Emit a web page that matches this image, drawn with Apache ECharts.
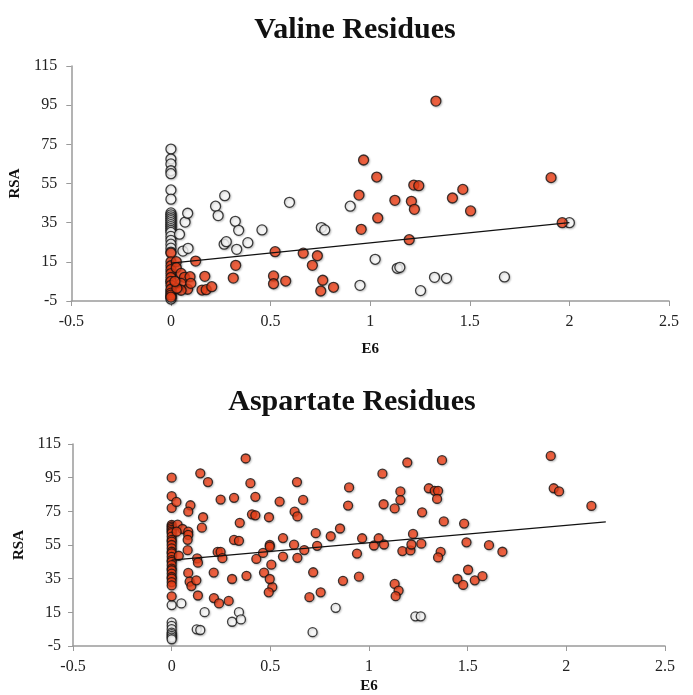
<!DOCTYPE html>
<html>
<head>
<meta charset="utf-8">
<script src="https://cdn.jsdelivr.net/npm/echarts@6/dist/echarts.min.js"></script>
<style>
  html, body { margin: 0; padding: 0; background: #fff; }
  #main { width: 693px; height: 695px; }
</style>
</head>
<body>
<div id="main"></div>
<script>
// axis ticks
const xTicks = [-0.5, 0, 0.5, 1, 1.5, 2, 2.5];
const yTicks = [-5, 15, 35, 55, 75, 95, 115];

// Valine - white (hollow) points
const valHollowX = [0, 0, 0, 0, 0, 0, 0, 0, 0, 0, 0, 0, 0, 0, 0, 0, 0, 0, 0, 0, 0, 0, 0, 0, 0, 0, 0,
  0.043, 0.071, 0.084, 0.06, 0.086, 0.224, 0.237, 0.27, 0.267, 0.278, 0.323, 0.34, 0.33, 0.386, 0.457,
  0.595, 0.755, 0.772, 0.9, 1.025, 1.136, 1.149, 0.949, 1.253, 1.323, 1.383, 1.674, 2.0];
const valHollowY = [72.6, 67.5, 65, 61.5, 60, 51.7, 47, 40, 39, 38, 37, 36, 35, 34, 33, 32, 31, 30, 28, 26, 24, 22, 20, 5, 0, -3, -4,
  29.1, 35.3, 39.8, 20.5, 21.9, 43.4, 38.6, 48.8, 24, 25.3, 35.7, 31.1, 21.4, 24.8, 31.3,
  45.4, 32.5, 31.3, 43.4, 16.3, 11.7, 12.2, 3, 0.3, 7.1, 6.6, 7.3, 35];

// Valine - orange points
const valOrangeX = [0, 0, 0, 0, 0, 0, 0, 0, 0, 0, 0, 0,
  0.027, 0.027, 0.051, 0.068, 0.096, 0.051, 0.084, 0.051, 0.03, 0.02, 0.1,
  0.124, 0.17, 0.313, 0.325, 0.156, 0.177, 0.205,
  0.523, 0.664, 0.735, 0.71, 0.515, 0.515, 0.576, 0.762, 0.752, 0.816,
  0.967, 1.033, 0.944, 0.955, 1.038, 1.124, 1.207, 1.222, 1.219, 1.244, 1.196, 1.33,
  1.413, 1.465, 1.504, 1.908, 1.964];
const valOrangeY = [19.5, 15, 13, 11, 9, 7, 5, 3, 1, -1, -2, -3,
  15.1, 12, 9.1, 7.1, 7.4, 4, 1, 0.5, 1.5, 5, 4,
  15.4, 7.6, 6.7, 13.2, 0.6, 0.8, 2.3,
  20.2, 19.4, 18.1, 13.2, 7.8, 3.8, 5.2, 5.6, 0.1, 2,
  67, 58.3, 49.1, 31.6, 37.4, 46.4, 45.9, 41.8, 54.2, 53.9, 26.3, 97.1,
  47.6, 52, 41, 58, 35];

const valTrendX = [0, 2.0];
const valTrendY = [14.3, 35];

// Aspartate - white (hollow) points
const aspHollowX = [0, 0, 0, 0, 0, 0, 0, 0, 0,
  0.049, 0.167, 0.127, 0.145, 0.306, 0.341, 0.351, 0.714, 0.831, 1.235, 1.262];
const aspHollowY = [19.3, 9, 7, 5, 3, 2, 1, 0, -1,
  20.3, 15.1, 4.9, 4.5, 9.4, 15.1, 10.8, 3.2, 17.7, 12.6, 12.6];

// Aspartate - orange points
const aspOrangeX = [0, 0, 0, 0, 0, 0, 0, 0, 0, 0, 0, 0, 0, 0, 0, 0, 0, 0, 0, 0, 0, 0, 0, 0, 0, 0, 0, 0,
  0.024, 0.095, 0.084, 0.145, 0.184, 0.248, 0.316, 0.375, 0.399, 0.424, 0.547, 0.159, 0.153,
  0.03, 0.055, 0.025, 0.084, 0.084, 0.081, 0.081, 0.036, 0.084, 0.091, 0.1, 0.125, 0.133, 0.129, 0.133,
  0.213, 0.233, 0.248, 0.257, 0.214, 0.24, 0.289, 0.306, 0.316, 0.341, 0.345, 0.379, 0.407, 0.424,
  0.429, 0.463, 0.493, 0.497, 0.497, 0.468, 0.505, 0.51, 0.497, 0.492, 0.564, 0.564,
  0.635, 0.666, 0.623, 0.637, 0.62, 0.637, 0.672, 0.73, 0.737, 0.717, 0.698, 0.755, 0.806, 0.853,
  0.868, 0.899, 0.894, 0.939, 0.965, 0.949,
  1.025, 1.049, 1.076, 1.068, 1.074, 1.13, 1.159, 1.159, 1.194, 1.13, 1.15, 1.135, 1.169, 1.21, 1.215, 1.223,
  1.37, 1.303, 1.333, 1.35, 1.345, 1.269, 1.379, 1.482, 1.265, 1.494, 1.608, 1.676, 1.363, 1.35,
  1.502, 1.448, 1.477, 1.536, 1.575, 1.921, 1.936, 1.963, 2.127];
const aspOrangeY = [95, 84, 77, 67, 66, 65, 64, 63, 62, 60, 58, 57, 55, 53, 51, 50, 48, 46, 45, 43, 41, 40, 38, 36, 35, 33, 31, 24.5,
  80.6, 78.6, 74.8, 97.6, 92.4, 82, 83, 106.4, 91.7, 83.6, 80.8, 71.5, 65.3,
  67.1, 64.5, 62.9, 62.9, 61, 58.1, 51.9, 48.6, 38.4, 33.2, 30.6, 34, 25, 47, 44.5,
  38.6, 50.9, 50.9, 47.2, 23.5, 20.3, 21.8, 34.8, 58, 57.5, 68.2, 36.7, 73.2, 72.6,
  46.7, 50.3, 71.5, 55, 54, 38.6, 43.3, 30, 34.8, 26.9, 48.1, 59.1,
  92.4, 81.8, 74.8, 72, 55.2, 47.4, 52, 62, 54.5, 38.8, 24, 26.9, 60.2, 64.8,
  33.7, 89.2, 78.4, 49.9, 59, 36.2,
  54.7, 59, 55.3, 97.4, 79.2, 76.7, 86.8, 81.7, 104, 31.9, 27.9, 24.6, 51.4, 51.8, 55.3, 61.6,
  105.4, 88.7, 87.2, 87.2, 82.4, 74.4, 69, 67.7, 55.8, 56.6, 54.9, 51, 50.9, 47.6,
  40.3, 34.8, 31.3, 34, 36.5, 107.9, 88.7, 86.8, 78.2];

const aspTrendX = [0, 2.2];
const aspTrendY = [46, 68.7];

const zip = (xs, ys) => xs.map((x, i) => [x, ys[i]]);

const serif = '"Liberation Serif", "DejaVu Serif", serif';
const axisGray = '#9a9a9a';

function xAxis(gridIndex, nameGap) {
  return {
    type: 'value', gridIndex: gridIndex,
    min: xTicks[0], max: xTicks[xTicks.length - 1], interval: 0.5,
    name: 'E6', nameLocation: 'middle', nameGap: nameGap,
    nameTextStyle: { fontFamily: serif, fontWeight: 'bold', fontSize: 15, color: '#111' },
    axisLine: { onZero: false, lineStyle: { color: axisGray, width: 1.5 } },
    axisTick: { show: true, length: 5, lineStyle: { color: axisGray } },
    axisLabel: { margin: 13, fontFamily: serif, fontSize: 16, color: '#222',
      formatter: v => String(v) },
    splitLine: { show: false }
  };
}

function yAxis(gridIndex, nameGap, margin) {
  return {
    type: 'value', gridIndex: gridIndex,
    min: yTicks[0], max: yTicks[yTicks.length - 1], interval: 20,
    name: 'RSA', nameLocation: 'middle', nameGap: nameGap, nameRotate: 90,
    nameTextStyle: { fontFamily: serif, fontWeight: 'bold', fontSize: 15, color: '#111' },
    axisLine: { show: true, onZero: false, lineStyle: { color: axisGray, width: 1.5 } },
    axisTick: { show: true, length: 5, lineStyle: { color: axisGray } },
    axisLabel: { margin: margin, fontFamily: serif, fontSize: 16, color: '#222' },
    splitLine: { show: false }
  };
}

function dots(idx, data, fill, size) {
  return {
    type: 'scatter', xAxisIndex: idx, yAxisIndex: idx, data: data,
    symbolSize: size,
    itemStyle: { color: fill, borderColor: '#111', borderWidth: 1.3,
      shadowBlur: 2, shadowOffsetX: 1, shadowOffsetY: 1, shadowColor: 'rgba(0,0,0,0.25)' },
    silent: true, animation: false
  };
}

function trend(idx, xs, ys) {
  return {
    type: 'line', xAxisIndex: idx, yAxisIndex: idx, data: zip(xs, ys),
    showSymbol: false, symbol: 'none',
    lineStyle: { color: '#111', width: 1.2 },
    silent: true, animation: false, z: 5
  };
}

const orange = '#f4441a';
const chart = echarts.init(document.getElementById('main'), null, { renderer: 'canvas' });
chart.setOption({
  backgroundColor: '#fff',
  animation: false,
  title: [
    { text: 'Valine Residues', left: 350, top: 10, textAlign: 'center',
      textStyle: { fontFamily: serif, fontWeight: 'bold', fontSize: 30, color: '#111' } },
    { text: 'Aspartate Residues', left: 347, top: 382, textAlign: 'center',
      textStyle: { fontFamily: serif, fontWeight: 'bold', fontSize: 30, color: '#111' } }
  ],
  grid: [
    { left: 63, right: 24, top: 66, height: 235 },
    { left: 73, right: 28, top: 444, height: 209 }
  ],
  xAxis: [xAxis(0, 41), xAxis(1, 33)],
  yAxis: [yAxis(0, 30, 14), yAxis(1, 40, 12)],
  series: [
    dots(0, zip(valHollowX, valHollowY), '#fff', 10),
    dots(0, zip(valOrangeX, valOrangeY), orange, 10),
    trend(0, valTrendX, valTrendY),
    dots(1, zip(aspHollowX, aspHollowY), '#fff', 9),
    dots(1, zip(aspOrangeX, aspOrangeY), orange, 9),
    trend(1, aspTrendX, aspTrendY)
  ]
});
</script>
</body>
</html>
